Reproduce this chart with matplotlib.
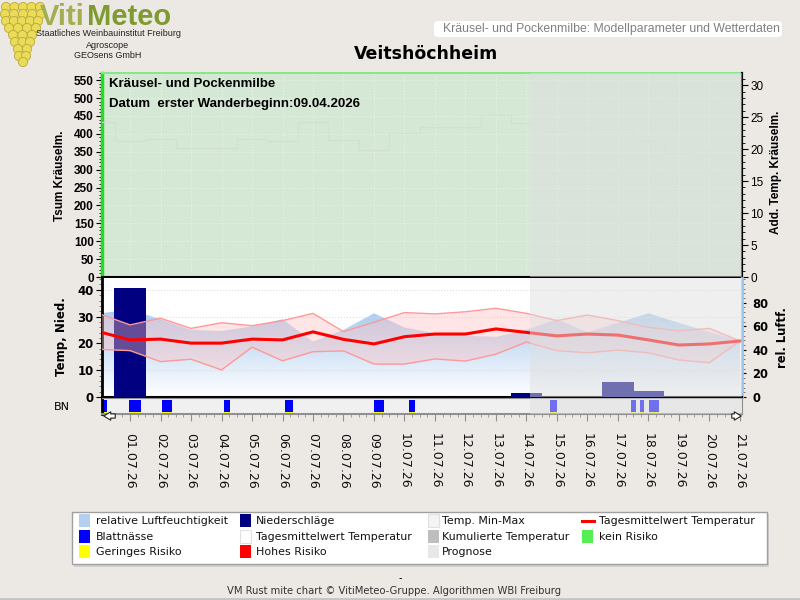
import numpy as np
import matplotlib.pyplot as plt
from matplotlib.colors import LinearSegmentedColormap
from matplotlib.patches import Rectangle, FancyBboxPatch, Circle
from matplotlib.lines import Line2D
from matplotlib.ticker import MultipleLocator

plt.rcParams['font.family'] = ['DejaVu Sans']

# Tage: 0 = 30.06.26, 1 = 01.07.26 ... 21 = 21.07.26
tage = list(range(22))
datum = ["%02d.07.26" % d for d in range(1, 22)]

temp_mittel = [24.3, 21.3, 21.6, 20.1, 20.1, 21.6, 21.3, 24.3, 21.5, 19.8, 22.5,
               23.5, 23.5, 25.4, 24.1, 22.8, 23.5, 23.1, 21.3, 19.4, 19.8, 20.9]
temp_max = [31.0, 26.9, 29.4, 25.6, 27.7, 26.6, 28.5, 31.2, 24.4, 27.9, 31.5,
            31.0, 31.8, 33.1, 31.2, 28.5, 30.6, 28.5, 26.0, 24.7, 25.6, 20.9]
temp_min = [17.8, 17.3, 13.2, 14.1, 10.1, 18.6, 13.5, 16.9, 17.2, 12.3, 12.3,
            14.2, 13.4, 16.0, 20.5, 17.3, 16.5, 17.5, 16.5, 13.8, 12.8, 20.9]
luftfeuchte = [71, 74, 66, 57, 56, 60, 66, 47, 57, 71, 59,
               54, 52, 51, 57, 66, 55, 63, 71, 63, 55, 48]
niederschlag = [0, 40.5, 0, 0, 0, 0, 0, 0, 0, 0, 0,
                0, 0, 0, 1.4, 0, 0, 5.7, 2.2, 0, 0, 0]

# Blattnaesse-Perioden (Tage)
bn_von = [0.08, 0.97, 2.05, 4.08, 6.09, 9.00, 10.15, 14.77, 17.43, 17.72, 18.02]
bn_bis = [0.26, 1.35, 2.38, 4.28, 6.34, 9.33, 10.34, 14.99, 17.59, 17.85, 18.34]

prognose_ab = 14.13

W, H = 800, 600


def fx(px):
    return px / W


def fy(py):
    return 1 - py / H


X0, X1 = 0.08, 21.07
fig = plt.figure(figsize=(8, 6), dpi=100, facecolor='#ece9e5')

# ---------------- oberes Diagramm ----------------
ax_o = fig.add_axes([fx(102), fy(277), fx(742) - fx(102), (277 - 73) / H])
ax_o.set_facecolor('#d5e8d5')
ax_o.set_xlim(X0, X1)
ax_o.set_ylim(0, 570)
ax_or = ax_o.twinx()

ax_o.yaxis.tick_left()
ax_o.set_yticks(range(0, 551, 50), [str(v) for v in range(0, 551, 50)],
                fontweight='bold', family='Liberation Sans', fontsize=8.5)
ax_o.yaxis.set_minor_locator(MultipleLocator(10))
ax_o.tick_params(axis='y', which='major', length=4, pad=2)
ax_o.tick_params(axis='y', which='minor', length=2)
ax_o.set_xticks(range(1, 22))
ax_o.tick_params(axis='x', length=0, labelbottom=False)
ax_o.grid(True, linestyle=':', color='#e8f2e8', lw=0.8)
ax_o.spines['left'].set_color('#22dd22')
ax_o.spines['left'].set_linewidth(2.5)
ax_o.spines['top'].set_color('#88e888')
ax_o.spines['top'].set_linewidth(1.5)
ax_o.spines['bottom'].set_linewidth(1.5)
ax_o.spines['right'].set_linewidth(1.5)
ax_o.text(0.3, 539, "Kräusel- und Pockenmilbe", fontweight='bold',
          family='Liberation Sans', fontsize=9.5, va='center')
ax_o.text(0.3, 483, "Datum  erster Wanderbeginn:09.04.2026", fontweight='bold',
          family='Liberation Sans', fontsize=9.5, va='center')

ax_or.set_ylim(0, 31.9)
ax_or.set_yticks(range(0, 31, 5), [str(v) for v in range(0, 31, 5)],
                 family='Liberation Sans', fontsize=8.5)
ax_or.yaxis.set_minor_locator(MultipleLocator(1))
ax_or.tick_params(axis='y', which='major', length=4, pad=2)
ax_or.tick_params(axis='y', which='minor', length=2)
for s in ['left', 'top']:
    ax_or.spines[s].set_visible(False)
ax_or.spines['right'].set_linewidth(1.5)
ax_or.plot(tage, temp_mittel, drawstyle='steps-mid', color='#d0e1d0', lw=0.8)
ax_or.axvspan(prognose_ab, X1, color='#e0e0e0', alpha=0.5, lw=0, zorder=10)

# ---------------- unteres Diagramm ----------------
ax_lf = fig.add_axes([fx(102), fy(397), fx(742) - fx(102), (397 - 278) / H])
ax_lf.set_facecolor('white')
ax_t = ax_lf.twinx()

ax_lf.set_xlim(X0, X1)
ax_lf.set_ylim(0, 101)
ax_lf.set_xticks(range(1, 22))
ax_lf.tick_params(axis='x', length=0, labelbottom=False)
ax_lf.spines['top'].set_visible(False)
ax_lf.spines['right'].set_color('#9cc4ec')
ax_lf.spines['right'].set_linewidth(2)
ax_lf.spines['left'].set_visible(False)
ax_lf.spines['bottom'].set_linewidth(1.5)

poly = ax_lf.fill_between(tage, 0, luftfeuchte, color='none', lw=0)
cmap_lf = LinearSegmentedColormap.from_list('lf', ['#ffffff', '#a2c6ee'])
grad = np.linspace(0, 1, 256).reshape(-1, 1)
img = ax_lf.imshow(grad, extent=[X0, X1, 0, 80], origin='lower', aspect='auto',
                   cmap=cmap_lf, zorder=1)
img.set_clip_path(poly.get_paths()[0], transform=ax_lf.transData)
ax_lf.set_xlim(X0, X1)
ax_lf.set_ylim(0, 101)

ax_t.set_xlim(X0, X1)
ax_t.set_ylim(0, 44.4)
ax_t.yaxis.tick_left()
ax_t.set_yticks(range(0, 41, 10), [str(v) for v in range(0, 41, 10)],
                fontweight='bold', fontsize=8.5)
ax_t.yaxis.set_minor_locator(MultipleLocator(2))
ax_t.tick_params(axis='y', which='major', length=4, pad=2)
ax_t.tick_params(axis='y', which='minor', length=2, color='#666666')
ax_t.spines['left'].set_linewidth(2)
for s in ['top', 'right', 'bottom']:
    ax_t.spines[s].set_visible(False)
ax_t.set_xticks(range(1, 22))
ax_t.tick_params(axis='x', length=0, labelbottom=False)
ax_t.grid(True, linestyle=':', color='#dcdcdc', lw=0.8)

# rechte Achse (Luftfeuchte) erst nach twinx setzen
ax_lf.yaxis.tick_right()
ax_lf.set_yticks(range(0, 81, 20), [str(v) for v in range(0, 81, 20)],
                 fontweight='bold', fontsize=8.3)
ax_lf.yaxis.set_minor_locator(MultipleLocator(4))
ax_lf.tick_params(axis='y', which='major', length=3, pad=4.5)
ax_lf.tick_params(axis='y', which='minor', length=2, color='#666666')

ax_t.bar(tage, niederschlag, width=1.04, color='#000080', zorder=2)
ax_t.fill_between(tage, temp_min, temp_max, color='#ffc0c0', alpha=0.4, lw=0, zorder=3)
ax_t.plot(tage, temp_max, color='#ff9898', lw=1, zorder=4)
ax_t.plot(tage, temp_min, color='#ff9898', lw=1, zorder=4)
ax_t.plot(tage, temp_mittel, color='#ff0000', lw=2.2, zorder=5)
ax_t.axvspan(prognose_ab, X1, color='#e0e0e0', alpha=0.5, lw=0, zorder=10)

# ---------------- Blattnaesse ----------------
ax_bn = fig.add_axes([fx(102), fy(414), fx(742) - fx(102), (414 - 398) / H])
ax_bn.set_facecolor('#f0f0f0')
ax_bn.set_xlim(X0, X1)
ax_bn.set_ylim(0, 1)
ax_bn.set_yticks([])
bn_breite = np.subtract(bn_bis, bn_von)
ax_bn.bar(bn_von, 0.78, width=bn_breite, bottom=0.1, align='edge', color='#0000ff', lw=0)
ax_bn.bar(bn_von, 0.1, width=bn_breite, align='edge', color='#ffff00', lw=0)
ax_bn.axvspan(prognose_ab, X1, color='#e0e0e0', alpha=0.5, lw=0, zorder=10)
ax_bn.set_xticks(range(1, 22), datum, rotation=-90, fontsize=9, color='#111111')
ax_bn.xaxis.set_minor_locator(MultipleLocator(0.25))
ax_bn.tick_params(axis='x', which='major', length=5, color='#909090', pad=9)
ax_bn.tick_params(axis='x', which='minor', length=2, color='#909090')
ax_bn.spines['left'].set_linewidth(2)
ax_bn.spines['top'].set_color('#909090')
ax_bn.spines['bottom'].set_color('#909090')
ax_bn.spines['bottom'].set_linewidth(1.5)
ax_bn.spines['right'].set_color('#909090')

# Scroll-Pfeile
for x_a, x_b in [(118, 101), (729, 744)]:
    fig.add_artist(plt.Annotation('', xy=(fx(x_b), fy(416)), xytext=(fx(x_a), fy(416)),
                                  xycoords='figure fraction', textcoords='figure fraction',
                                  arrowprops=dict(arrowstyle='simple,head_width=0.6,tail_width=0.3',
                                                  fc='white', ec='#222222', lw=0.8)))

# ---------------- Achsentitel ----------------
fig.text(fx(60), fy(176), "Tsum Kräuselm.", rotation=90, ha='center', va='center',
         fontweight='bold', family='Liberation Sans', fontsize=8.5)
fig.text(fx(776), fy(172), "Add. Temp. Kräuselm.", rotation=90, ha='center', va='center',
         fontweight='bold', family='Liberation Sans', fontsize=8.5)
fig.text(fx(62), fy(337), "Temp, Nied.", rotation=90, ha='center', va='center',
         fontweight='bold', fontsize=8.5)
fig.text(fx(783), fy(338), "rel. Luftf.", rotation=90, ha='center', va='center',
         fontweight='bold', fontsize=8.3)
fig.text(fx(62), fy(407), "BN", ha='center', va='center', fontsize=8)

# ---------------- Kopf ----------------
fig.text(fx(426), fy(54), "Veitshöchheim", ha='center', va='center',
         fontweight='bold', fontsize=12.5)
fig.patches.append(FancyBboxPatch((fx(434), fy(37)), fx(782) - fx(434), (37 - 21) / H,
                                  boxstyle='round,pad=0,rounding_size=0.006',
                                  transform=fig.transFigure, fc='white', ec='none'))
fig.text(fx(780), fy(29), "Kräusel- und Pockenmilbe: Modellparameter und Wetterdaten",
         ha='right', va='center', fontsize=8.8, color='#808080', family='Liberation Sans')

# Logo
logo = fig.add_axes([0, fy(68), fx(46), 68 / H])
logo.axis('off')
logo.set_xlim(0, 46)
logo.set_ylim(68, 0)
reihen = [(7, 5, 6, 40), (14, 5, 5, 41), (21, 5, 6, 38), (28, 4, 9, 36),
          (35, 3, 13, 32), (42, 3, 15, 30), (49, 2, 18, 27), (56, 2, 19, 26), (62, 1, 23, 23)]
for ry, rn, ra, rb in reihen:
    for xg in np.linspace(ra, rb, rn):
        logo.add_patch(Circle((xg, ry), 4.6, fc='#e8dc58', ec='#c0a838', lw=0.6))
fig.text(fx(40), fy(17), "Viti", ha='left', va='center', fontsize=21,
         fontweight='bold', color='#a3ae52', family='Liberation Sans')
fig.text(fx(87), fy(17), "Meteo", ha='left', va='center', fontsize=21,
         fontweight='bold', color='#7f9a30', family='Liberation Sans')
for txt, yy in [("Staatliches Weinbauinstitut Freiburg", 34), ("Agroscope", 45), ("GEOsens GmbH", 55)]:
    fig.text(fx(108), fy(yy), txt, ha='center', va='center', fontsize=6.5,
             family='Liberation Sans', color='#222222')

# ---------------- Legende ----------------
fig.patches.append(Rectangle((fx(74), fy(567)), fx(769) - fx(74), (567 - 514) / H,
                             transform=fig.transFigure, fc='#d0d0d0', ec='none'))
fig.patches.append(Rectangle((fx(72), fy(564)), fx(767) - fx(72), (564 - 512) / H,
                             transform=fig.transFigure, fc='white', ec='#a0a0a0', lw=1))
leg_eintraege = [
    ("relative Luftfeuchtigkeit", '#b4d0f0', 0, 0), ("Blattnässe", '#0000ff', 0, 1),
    ("Geringes Risiko", '#ffff00', 0, 2),
    ("Niederschläge", '#000080', 1, 0), ("Tagesmittelwert Temperatur", '#ffffff', 1, 1),
    ("Hohes Risiko", '#ff0000', 1, 2),
    ("Temp. Min-Max", '#f4f4f4', 2, 0), ("Kumulierte Temperatur", '#bebebe', 2, 1),
    ("Prognose", '#e8e8e8', 2, 2),
    ("Tagesmittelwert Temperatur", 'linie', 3, 0), ("kein Risiko", '#55ee55', 3, 1),
]
sw_x = [79, 240, 428, 582]
tx_x = [96, 256, 442, 599]
row_y = [521, 537, 552]
for lab, col, c, r in leg_eintraege:
    if col == 'linie':
        fig.add_artist(Line2D([fx(582), fx(594)], [fy(row_y[r]), fy(row_y[r])],
                              color='#ff0000', lw=2.2))
    else:
        fig.patches.append(Rectangle((fx(sw_x[c]), fy(row_y[r] + 6)), 11 / W, 13 / H,
                                     transform=fig.transFigure, fc=col,
                                     ec='#e0e0e0' if col in ('#ffffff', '#f4f4f4') else 'none', lw=0.8))
    fig.text(fx(tx_x[c]), fy(row_y[r]), lab, ha='left', va='center', fontsize=7.9,
             color='#111111')

# ---------------- Fusszeile ----------------
fig.text(0.5, fy(578), "-", ha='center', va='center', fontsize=7)
fig.text(fx(394), fy(591), "VM Rust mite chart © VitiMeteo-Gruppe. Algorithmen WBI Freiburg",
         ha='center', va='center', fontsize=7.2, color='#333333')
fig.add_artist(Line2D([0, 1], [fy(599), fy(599)], color='#c4c4c4', lw=2))

fig.savefig('out.png', dpi=100, facecolor=fig.get_facecolor())
